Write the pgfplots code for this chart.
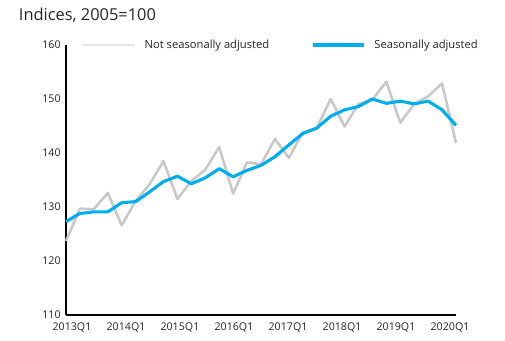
\documentclass[border=0pt]{standalone}
\usepackage{fontspec}
\setmainfont{Open Sans}
\usepackage{pgfplots}
\pgfplotsset{compat=1.18}
\definecolor{sablue}{RGB}{0,172,240}
\definecolor{nsagray}{RGB}{200,200,200}
\definecolor{leggray}{RGB}{228,228,228}
\pgfplotstableread{
i nsa sa
0 123.7 127.3
1 129.7 128.8
2 129.6 129.1
3 132.6 129.1
4 126.6 130.8
5 131.1 131.0
6 134.2 132.8
7 138.5 134.7
8 131.5 135.7
9 134.8 134.3
10 136.9 135.4
11 141.1 137.1
12 132.5 135.6
13 138.3 136.8
14 137.9 137.7
15 142.6 139.3
16 139.1 141.5
17 143.8 143.6
18 144.6 144.6
19 150.0 146.8
20 144.9 148.0
21 149.1 148.6
22 149.9 150.0
23 153.2 149.2
24 145.6 149.6
25 149.1 149.1
26 150.5 149.6
27 152.9 148.0
28 141.9 145.1
}\datatable
\begin{document}
\begin{tikzpicture}
\useasboundingbox (0,0) rectangle (378.75pt,255pt);
\node[anchor=base west, inner sep=0pt, font=\fontsize{12.3}{14}\selectfont, text=black!85] at (14pt,239.5pt) {Indices, 2005=100};
\begin{axis}[
  at={(49.5pt,18.75pt)}, anchor=south west,
  scale only axis, width=292.5pt, height=202.5pt,
  xmin=0, xmax=28, ymin=110, ymax=160,
  clip=false,
  axis x line*=bottom, axis y line*=left,
  axis line style={black, line width=0.9pt, -},
  xtick={0.43,4.31,8.18,12.06,15.94,19.82,23.69,27.57},
  xticklabels={2013Q1,2014Q1,2015Q1,2016Q1,2017Q1,2018Q1,2019Q1,2020Q1},
  ytick={110,120,...,160},
  tick style={draw=none},
  major tick length=0pt,
  tick label style={font=\fontsize{8}{9}\selectfont, text=black!85},
  yticklabel style={inner sep=0pt, anchor=east, xshift=-3.8pt},
  xticklabel style={inner sep=0pt, anchor=north, yshift=-5.6pt},
  /pgf/number format/assume math mode=true,
  legend columns=2,
  legend style={draw=none, fill=none, at={(0,1)}, anchor=west, xshift=11.8pt,
    inner sep=0pt, font=\fontsize{8.4}{9}\selectfont, text=black!85,
    nodes={inner sep=0pt},
    /tikz/every odd column/.style={column sep=6.6pt},
    /tikz/every even column/.style={column sep=31.5pt}},
  legend image code/.code={\draw[#1] (0pt,0pt) -- (38.5pt,0pt);},
]
\addplot[nsagray, line width=1.9pt, line join=round, legend image code/.code={\draw[leggray, line width=1.9pt] (0pt,0pt) -- (38.5pt,0pt);}] table[x=i, y=nsa] {\datatable};
\addlegendentry{Not seasonally adjusted}
\addplot[sablue, line width=2.3pt, line join=round] table[x=i, y=sa] {\datatable};
\addlegendentry{Seasonally adjusted}
\end{axis}
\end{tikzpicture}
\end{document}
